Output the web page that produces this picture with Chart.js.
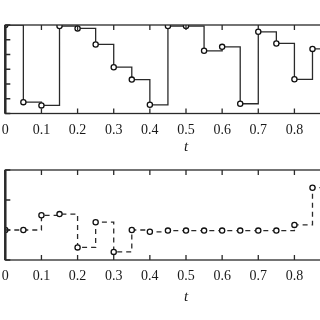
<!DOCTYPE html>
<html>
<head>
<meta charset="utf-8">
<script src="https://cdn.jsdelivr.net/npm/chart.js@4"></script>
<style>
  html, body { margin: 0; padding: 0; background: #fff; overflow: hidden; width: 320px; height: 320px; }
  .panel { position: absolute; left: 0; width: 372px; }
</style>
</head>
<body>
<div class="panel" style="top:0;height:160px"><canvas id="topChart"></canvas></div>
<div class="panel" style="top:160px;height:150px"><canvas id="bottomChart"></canvas></div>
<script>
// sample times (last one only carries the final step past the crop)
const tValues = [0, 0.05, 0.1, 0.15, 0.2, 0.25, 0.3, 0.35, 0.4, 0.45, 0.5, 0.55, 0.6, 0.65, 0.7, 0.75, 0.8, 0.85, 0.9];
const topValues = [6.0, 0.77, 0.55, 5.93, 5.77, 4.68, 3.14, 2.3, 0.59, 5.93, 5.93, 4.25, 4.52, 0.66, 5.54, 4.75, 2.32, 4.38, 4.38];
const bottomValues = [0, 0, 0.49, 0.53, -0.58, 0.26, -0.73, 0, -0.06, -0.02, -0.02, -0.02, -0.02, -0.02, -0.02, -0.02, 0.17, 1.41, 1.41];
const xTickStep = 0.1;

const inkColor = "#2a2a2a";
const serif = "'Liberation Serif', 'DejaVu Serif', serif";

// MATLAB-like box with ticks pointing inward
const boxTicks = {
    id: "boxTicks",
    afterDraw(chart) {
        const ctx = chart.ctx;
        const { left, right, top, bottom } = chart.chartArea;
        const xs = chart.scales.x;
        const ys = chart.scales.y;
        ctx.save();
        ctx.strokeStyle = inkColor;
        ctx.lineWidth = 1.3;
        ctx.strokeRect(left, top, right - left, bottom - top);
        ctx.beginPath();
        xs.ticks.forEach(tk => {
            const px = xs.getPixelForValue(tk.value);
            ctx.moveTo(px, bottom);
            ctx.lineTo(px, bottom - 5);
            ctx.moveTo(px, top);
            ctx.lineTo(px, top + 5);
        });
        ys.ticks.forEach(tk => {
            const py = ys.getPixelForValue(tk.value);
            ctx.moveTo(left, py);
            ctx.lineTo(left + 5, py);
        });
        ctx.stroke();
        ctx.lineWidth = 2.5;
        ctx.beginPath();
        ctx.moveTo(left, top);
        ctx.lineTo(left, bottom);
        ctx.stroke();
        ctx.restore();
    }
};

function makeChart(id, values, dash, yMin, yMax, padTop, axisHeight) {
    const points = tValues.map((t, i) => ({ x: t, y: values[i] }));
    const radii = tValues.map((t, i) => (i === tValues.length - 1 ? 0 : 2.6));
    return new Chart(document.getElementById(id), {
        type: "line",
        data: {
            datasets: [{
                data: points,
                stepped: true,
                borderColor: inkColor,
                borderWidth: 1.3,
                borderDash: dash,
                pointRadius: radii,
                pointBackgroundColor: "#fff",
                pointBorderColor: "#111",
                pointBorderWidth: 1.3,
                fill: false
            }]
        },
        options: {
            responsive: true,
            maintainAspectRatio: false,
            animation: false,
            layout: { padding: { left: 1, right: 1, top: padTop, bottom: 0 } },
            plugins: { legend: { display: false }, tooltip: { enabled: false } },
            scales: {
                x: {
                    type: "linear",
                    min: 0,
                    max: 1,
                    afterFit: s => {
                        s.height = axisHeight;
                        s.paddingLeft = 0;
                        s.paddingRight = 0;
                    },
                    ticks: {
                        stepSize: xTickStep,
                        padding: 0,
                        maxRotation: 0,
                        color: "#1a1a1a",
                        font: { family: serif, size: 14 }
                    },
                    grid: { display: false },
                    border: { display: false },
                    title: {
                        display: true,
                        text: "t",
                        color: "#1a1a1a",
                        padding: { top: 0, bottom: 4 },
                        font: { family: serif, size: 15, style: "italic" }
                    }
                },
                y: {
                    min: yMin,
                    max: yMax,
                    display: false,
                    ticks: { stepSize: 1, font: { size: 6 } }
                }
            }
        },
        plugins: [boxTicks]
    });
}

makeChart("topChart", topValues, [], 0, 6, 25, 46.5);
makeChart("bottomChart", bottomValues, [5, 4], -1, 2, 10, 50);
</script>
</body>
</html>
